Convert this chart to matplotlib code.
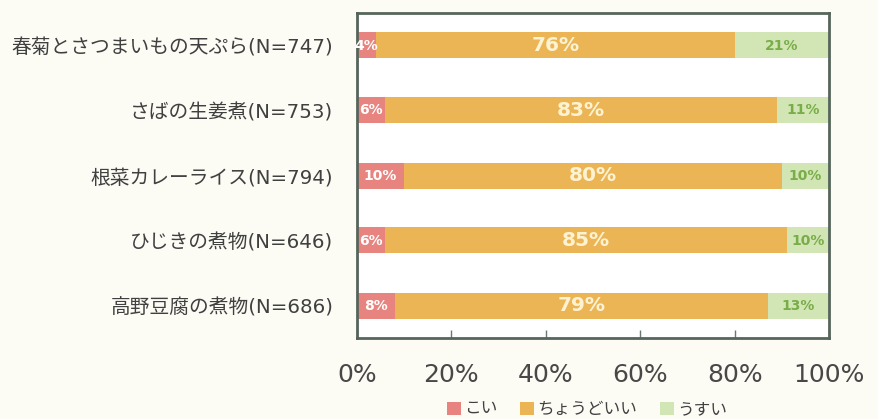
import matplotlib
matplotlib.use("Agg")
import matplotlib.pyplot as plt
from matplotlib.patches import Patch
import numpy as np

plt.rcParams['font.family'] = ['DejaVu Sans', 'Noto Sans CJK JP']

categories = [
    "春菊とさつまいもの天ぷら(N=747)",
    "さばの生姜煮(N=753)",
    "根菜カレーライス(N=794)",
    "ひじきの煮物(N=646)",
    "高野豆腐の煮物(N=686)",
]
koi = [4, 6, 10, 6, 8]
choudo = [76, 83, 80, 85, 79]
usui = [21, 11, 10, 10, 13]
series_names = ["こい", "ちょうどいい", "うすい"]
xticks = [0, 20, 40, 60, 80, 100]

bg = "#fcfbf4"
c_koi = "#e8847f"
c_choudo = "#ebb556"
c_usui = "#d2e5b4"
text_col = "#404040"

fig = plt.figure(figsize=(8.79, 4.19), dpi=100, facecolor=bg)
ax = fig.add_axes([357 / 879, 1 - 338 / 419, (829 - 357) / 879, (338 - 13) / 419])
ax.set_facecolor("white")

y = np.arange(len(categories))
h = 0.4
left = np.zeros(len(categories))
series = [koi, choudo, usui]
colors = [c_koi, c_choudo, c_usui]
txt_colors = ["white", "#fdf3d2", "#78ad48"]
for vals, col, tc in zip(series, colors, txt_colors):
    vals = np.array(vals, dtype=float)
    ax.barh(y, vals, left=left, height=h, color=col, edgecolor="none")
    for yi, l, v in zip(y, left, vals):
        end = min(l + v, 100)
        cx = (l + end) / 2
        big = v >= 50
        ax.text(cx, yi, f"{int(v)}%", ha="center", va="center", color=tc,
                fontsize=14.5 if big else 10, fontweight="bold", clip_on=False)
    left += vals

ax.set_xlim(0, 100)
ax.set_ylim(len(categories) - 0.5, -0.5)
ax.set_yticks(y)
ax.set_yticklabels(categories, fontsize=14.2, color=text_col)
ax.tick_params(axis="y", length=0, pad=17)
ax.set_xticks(xticks)
ax.set_xticklabels([f"{t}%" for t in xticks], fontsize=18, color="#484848")
ax.tick_params(axis="x", direction="in", length=6, width=1, color="#6a7a70", pad=18)
for s in ax.spines.values():
    s.set_color("#55655b")
    s.set_linewidth(2)

handles = [Patch(facecolor=c, edgecolor="none") for c in colors]
fig.legend(handles, series_names, loc="center", bbox_to_anchor=(587 / 879, 1 - 409 / 419),
           ncol=3, frameon=False, fontsize=12, handlelength=0.8, handleheight=0.8,
           handletextpad=0.2, columnspacing=1.4, labelcolor=text_col)

fig.savefig("out.png", dpi=100, facecolor=bg)
